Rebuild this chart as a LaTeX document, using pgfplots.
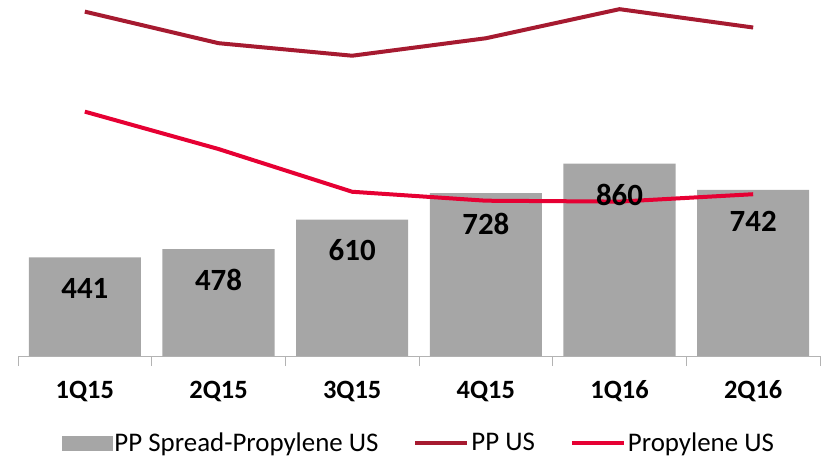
\documentclass[border=0pt]{standalone}
\usepackage{fontspec}
\setmainfont{Carlito}
\usepackage{pgfplots}
\pgfplotsset{compat=1.18}
\definecolor{barg}{HTML}{A6A6A6}
\definecolor{ppus}{HTML}{A61A30}
\definecolor{prop}{HTML}{E60033}
\definecolor{axg}{HTML}{B3B3B3}
\begin{document}
\begin{tikzpicture}
\begin{axis}[
  scale only axis, width=802bp, height=356bp,
  xmin=-0.5, xmax=5.5, ymin=0, ymax=1591,
  axis x line*=bottom, axis y line=none,
  /pgf/number format/assume math mode=true,
  x axis line style={draw=axg, line width=1bp, -},
  xtick={0,...,5}, xticklabels={1Q15,2Q15,3Q15,4Q15,1Q16,2Q16},
  major tick length=0pt,
  minor xtick={-0.5,0.5,...,5.5},
  minor x tick style={draw=axg, line width=1bp},
  minor tick length=10bp, tick align=outside,
  xticklabel style={font=\fontsize{26.5}{30}\selectfont\bfseries, anchor=base, yshift=-42bp},
  legend style={at={(0.5,-0.244)}, anchor=center, draw=none, fill=none,
    font=\fontsize{27}{30}\selectfont, legend columns=-1,
    /tikz/every even column/.append style={column sep=33bp}},
]
\coordinate (ll) at (rel axis cs:0,0);
\addlegendimage{legend image code/.code={\fill[barg] (0bp,-7bp) rectangle (50bp,7bp);}}
\addlegendentry{PP Spread-Propylene US}
\addplot[ybar, bar width=0.838, bar shift=0, fill=barg, draw=none, forget plot]
  coordinates {(0,441) (1,478) (2,610) (3,728) (4,860) (5,742)};
\addplot[ppus, line width=4bp, no marks,
  legend image code/.code={\draw[ppus, line width=4bp] (0bp,0bp) -- (52bp,0bp);}]
  coordinates {(0,1539) (1,1398) (2,1342) (3,1420) (4,1550) (5,1468)};
\addlegendentry{PP US}
\addplot[prop, line width=4bp, no marks,
  legend image code/.code={\draw[prop, line width=4bp] (0bp,0bp) -- (52bp,0bp);}]
  coordinates {(0,1092) (1,925) (2,734) (3,694) (4,690) (5,723)};
\addlegendentry{Propylene US}
\addplot[ybar, bar width=0.838, bar shift=0, fill=none, draw=none, forget plot,
  nodes near coords,
  every node near coord/.append style={font=\fontsize{31}{34}\selectfont\bfseries, black, anchor=center, yshift=-31bp}]
  coordinates {(0,441) (1,478) (2,610) (3,728) (4,860) (5,742)};
\end{axis}
\pgfresetboundingbox
\path (ll) ++(-18bp,-107bp) rectangle ++(821bp,463bp);
\end{tikzpicture}
\end{document}
